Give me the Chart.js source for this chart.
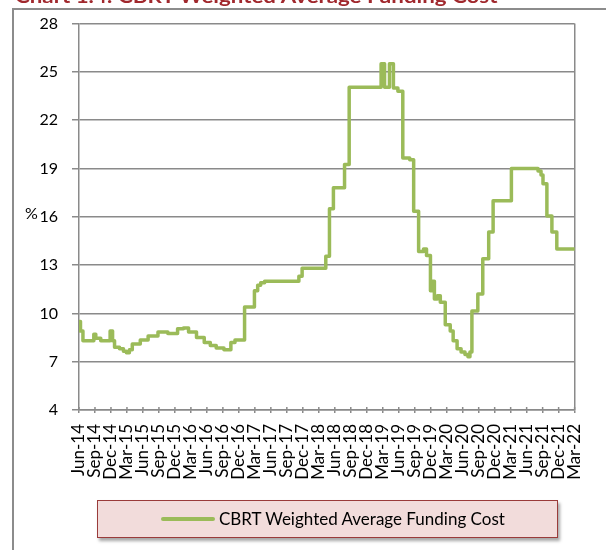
<!DOCTYPE html>
<html>
<head>
<meta charset="utf-8">
<script src="https://cdn.jsdelivr.net/npm/chart.js@4"></script>
<style>
  html, body { margin: 0; padding: 0; background: #fff; overflow: hidden; }
  #wrap { position: relative; width: 606px; height: 550px; }
  #chart { position: absolute; left: 0; top: 0; }
  .frame { position: absolute; background: #8c8c8c; }
  #title { position: absolute; left: 15px; top: -13px; font: bold 18px Lato, sans-serif; line-height: 18px;
           color: #a0282d; white-space: nowrap; transform-origin: 0 0; }
  #pct { position: absolute; left: 25px; top: 203px; font: 16px Lato, sans-serif; color: #000; }
  #legend { position: absolute; left: 97px; top: 500px; width: 459px; height: 36px;
            background: #f2dcdb; border: 1.5px solid #9a3b3a; box-shadow: 2px 3px 3px rgba(0,0,0,0.35); }
  #legend .swatch { position: absolute; left: 63px; top: 16px; width: 54px; height: 4px; background: #9bbb59; border-radius: 2px; }
  #legend .txt { position: absolute; left: 121px; top: 7px; font: 17px Lato, sans-serif; color: #000; white-space: nowrap; }
</style>
</head>
<body>
<div id="wrap">
  <canvas id="chart" width="606" height="550"></canvas>
  <div class="frame" style="left:12px; top:8px; width:1.5px; height:542px;"></div>
  <div class="frame" style="left:12px; top:8px; width:594px; height:1.5px;"></div>
  <div id="title">Chart 1.4: CBRT Weighted Average Funding Cost</div>
  <div id="pct">%</div>
  <div id="legend"><span class="swatch"></span><span class="txt">CBRT Weighted Average Funding Cost</span></div>
</div>
<script>
// quarterly axis labels, Jun-14 .. Mar-22
var quarterLabels = ['Jun-14','Sep-14','Dec-14','Mar-15','Jun-15','Sep-15','Dec-15','Mar-16',
  'Jun-16','Sep-16','Dec-16','Mar-17','Jun-17','Sep-17','Dec-17','Mar-18',
  'Jun-18','Sep-18','Dec-18','Mar-19','Jun-19','Sep-19','Dec-19','Mar-20',
  'Jun-20','Sep-20','Dec-20','Mar-21','Jun-21','Sep-21','Dec-21','Mar-22'];

// months since Jun-14 where the funding cost changes
var monthsSinceJun14 = [0, 0.28, 0.74, 2.78, 3.15, 4.08, 5.84, 6.3, 6.67, 7.6,
  8.34, 8.9, 9.45, 10.0, 11.5, 12.97, 14.82, 16.67, 18.5, 19.6,
  20.56, 22.05, 23.5, 24.64, 25.75, 27.2, 28.5, 29.27, 31.07, 32.92,
  33.53, 34.09, 34.83, 41.26, 41.87, 46.31, 47.0, 47.74, 49.83, 50.7,
  56.69, 57.34, 58.26, 59.0, 59.84, 60.76, 62.06, 62.8, 63.73, 64.65,
  65.21, 65.95, 66.32, 66.69, 67.25, 67.8, 68.73, 69.66, 70.21, 70.95,
  71.7, 72.43, 72.99, 73.36, 73.73, 74.84, 75.77, 76.88, 77.71, 81.14,
  86.14, 86.7, 87.07, 87.8, 88.74, 89.66, 93.0];

var fundingCost = [9.5, 8.9, 8.3, 8.7, 8.45, 8.3, 8.9, 8.3, 7.9, 7.8,
  7.65, 7.55, 7.75, 8.1, 8.35, 8.6, 8.85, 8.75, 9.05, 9.1,
  8.85, 8.5, 8.2, 8.0, 7.85, 7.75, 8.2, 8.35, 10.4, 11.4,
  11.75, 11.9, 12.0, 12.3, 12.8, 13.55, 16.5, 17.8, 19.25, 24.05,
  25.5, 24.05, 25.5, 24.0, 23.8, 19.65, 19.55, 16.35, 13.85, 14.0,
  13.6, 11.4, 12.0, 10.9, 11.1, 10.7, 9.3, 8.9, 8.3, 7.8,
  7.6, 7.45, 7.3, 7.6, 10.15, 11.2, 13.4, 15.05, 17.0, 19.0,
  18.85, 18.6, 18.05, 16.05, 15.05, 14.0, 14.0];

var yMin = 4, yMax = 28, yStep = 3;

var gridGrey = '#8a8a8a';

var points = monthsSinceJun14.map(function (m, i) { return { x: m, y: fundingCost[i] }; });

// little tick marks poking above the x axis, like the original
var tickCross = {
  id: 'tickCross',
  afterDraw: function (chart) {
    var ctx = chart.ctx, xs = chart.scales.x, bottom = chart.chartArea.bottom;
    ctx.save();
    ctx.strokeStyle = gridGrey;
    ctx.lineWidth = 1.5;
    xs.ticks.forEach(function (t) {
      var px = xs.getPixelForValue(t.value);
      ctx.beginPath();
      ctx.moveTo(px, bottom - 3);
      ctx.lineTo(px, bottom);
      ctx.stroke();
    });
    ctx.restore();
  }
};

var ctx = document.getElementById('chart').getContext('2d');
var chart = new Chart(ctx, {
  type: 'line',
  data: {
    datasets: [{
      label: 'CBRT Weighted Average Funding Cost',
      data: points,
      borderColor: '#9bbb59',
      borderWidth: 3.5,
      borderJoinStyle: 'round',
      borderCapStyle: 'round',
      stepped: 'before',
      pointRadius: 0,
      fill: false
    }]
  },
  options: {
    responsive: false,
    animation: false,
    layout: { padding: { left: 0, right: 25, top: 20, bottom: 0 } },
    plugins: { legend: { display: false }, tooltip: { enabled: false } },
    scales: {
      x: {
        type: 'linear',
        min: 0,
        max: 93,
        afterFit: function (s) { s.height = 140; },
        ticks: {
          stepSize: 3,
          autoSkip: false,
          minRotation: 90,
          maxRotation: 90,
          padding: 11,
          color: '#000',
          font: { family: 'Lato', size: 17 },
          callback: function (v) { return quarterLabels[Math.round(v / 3)]; }
        },
        grid: {
          color: function (c) { return c.tick && c.tick.value === 93 ? gridGrey : 'rgba(0,0,0,0)'; },
          lineWidth: 1.5,
          tickColor: gridGrey,
          tickLength: 3
        },
        border: { color: gridGrey, width: 1.5 }
      },
      y: {
        min: yMin,
        max: yMax,
        afterFit: function (s) { s.width = 79; },
        ticks: {
          stepSize: yStep,
          padding: 14,
          color: '#000',
          font: { family: 'Lato', size: 16 }
        },
        grid: { color: gridGrey, lineWidth: 1.5, tickColor: gridGrey, tickLength: 7 },
        border: { color: gridGrey, width: 1.5 }
      }
    }
  },
  plugins: [tickCross]
});

// stretch title to the width it has in the original
var t = document.getElementById('title');
t.style.transform = 'scaleX(' + (482 / t.offsetWidth) + ')';
</script>
</body>
</html>
